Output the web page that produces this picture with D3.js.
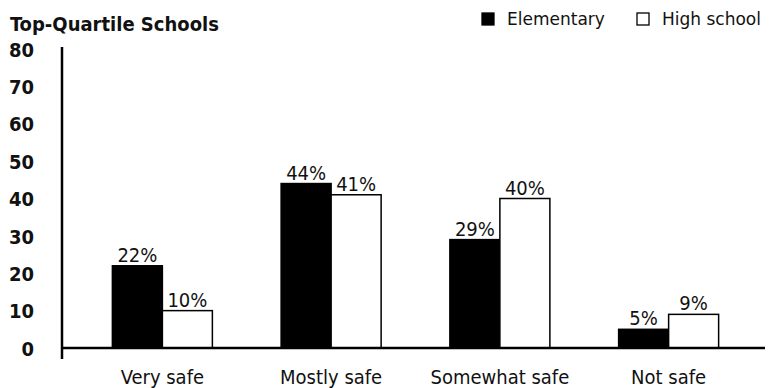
<!DOCTYPE html>
<html lang="en">
  <head>
    <meta charset="UTF-8" />
    <title>Top-Quartile Schools</title>
    <script src="https://d3js.org/d3.v7.min.js"></script>
    <style>
      * {
        margin: 0;
        padding: 0;
        box-sizing: border-box;
      }
      body {
        background: #ffffff;
        width: 771px;
        height: 388px;
        overflow: hidden;
      }
      .narrow {
        font-family: "Liberation Sans Narrow", "DejaVu Sans Condensed", sans-serif;
      }
      .title {
        font-size: 20px;
        font-weight: 700;
        fill: #111;
      }
      .tick text {
        font-size: 20px;
        font-weight: 700;
        fill: #111;
      }
      .value-label {
        font-size: 20px;
        fill: #111;
      }
      .cat-label {
        font-size: 20px;
        fill: #111;
      }
      .legend-text {
        font-family: "DejaVu Sans", sans-serif;
        font-size: 17px;
        fill: #111;
      }
    </style>
  </head>
  <body>
    <div id="chart"></div>
    <script>
      const categories = ["Very safe", "Mostly safe", "Somewhat safe", "Not safe"];
      const seriesNames = ["Elementary", "High school"];
      const elementary = [22, 44, 29, 5];
      const highSchool = [10, 41, 40, 9];
      const yTicks = [0, 10, 20, 30, 40, 50, 60, 70, 80];

      const W = 771,
        H = 388;
      const axisX = 62,
        baseY = 348;

      const svg = d3
        .select("#chart")
        .append("svg")
        .attr("width", W)
        .attr("height", H);

      const x = d3.scaleBand().domain(categories).range([78, 753]).padding(0);
      const x1 = d3
        .scaleBand()
        .domain(seriesNames)
        .range([0, x.bandwidth()])
        .paddingInner(0)
        .paddingOuter(0.6875);
      const y = d3.scaleLinear().domain([0, 80]).range([baseY, 49]);

      const rows = categories.map((c, i) => ({
        cat: c,
        vals: [
          { name: seriesNames[0], v: elementary[i] },
          { name: seriesNames[1], v: highSchool[i] },
        ],
      }));

      // title
      svg
        .append("text")
        .attr("class", "title narrow")
        .attr("x", 10)
        .attr("y", 31)
        .text("Top-Quartile Schools");

      // y axis labels
      const yAxis = svg
        .append("g")
        .attr("class", "narrow")
        .attr("transform", `translate(${axisX},0)`)
        .call(d3.axisLeft(y).tickValues(yTicks).tickSize(0).tickPadding(28));
      yAxis.select(".domain").remove();
      yAxis.selectAll(".tick text").attr("dy", "0.36em");

      // bars
      const groups = svg
        .selectAll(".grp")
        .data(rows)
        .enter()
        .append("g")
        .attr("class", "grp")
        .attr("transform", (d) => `translate(${x(d.cat)},0)`);

      groups
        .selectAll("rect")
        .data((d) => d.vals)
        .enter()
        .append("rect")
        .attr("x", (d) => x1(d.name))
        .attr("y", (d) => y(d.v))
        .attr("width", x1.bandwidth())
        .attr("height", (d) => baseY - y(d.v))
        .attr("fill", (d) => (d.name === "Elementary" ? "#000" : "#fff"))
        .attr("stroke", "#000")
        .attr("stroke-width", 1.5);

      groups
        .selectAll(".value-label")
        .data((d) => d.vals)
        .enter()
        .append("text")
        .attr("class", "value-label narrow")
        .attr("x", (d) => x1(d.name) + x1.bandwidth() / 2)
        .attr("y", (d) => y(d.v) - 4)
        .attr("text-anchor", "middle")
        .text((d) => d.v + "%");

      // axes lines
      svg
        .append("line")
        .attr("x1", axisX)
        .attr("x2", 765)
        .attr("y1", baseY)
        .attr("y2", baseY)
        .attr("stroke", "#000")
        .attr("stroke-width", 2.5);
      svg
        .append("line")
        .attr("x1", axisX)
        .attr("x2", axisX)
        .attr("y1", 47)
        .attr("y2", 359)
        .attr("stroke", "#000")
        .attr("stroke-width", 2.5);

      // category labels
      svg
        .selectAll(".cat-label")
        .data(categories)
        .enter()
        .append("text")
        .attr("class", "cat-label narrow")
        .attr("x", (d) => x(d) + x.bandwidth() / 2)
        .attr("y", 384)
        .attr("text-anchor", "middle")
        .text((d) => d);

      // legend
      const legendPos = [482, 637];
      const legend = svg
        .selectAll(".legend")
        .data(seriesNames)
        .enter()
        .append("g")
        .attr("class", "legend")
        .attr("transform", (d, i) => `translate(${legendPos[i]},13)`);
      legend
        .append("rect")
        .attr("width", 12)
        .attr("height", 12)
        .attr("fill", (d, i) => (i === 0 ? "#000" : "#fff"))
        .attr("stroke", "#000")
        .attr("stroke-width", 1.3);
      legend
        .append("text")
        .attr("class", "legend-text")
        .attr("x", 25)
        .attr("y", 12)
        .text((d) => d);
    </script>
  </body>
</html>
